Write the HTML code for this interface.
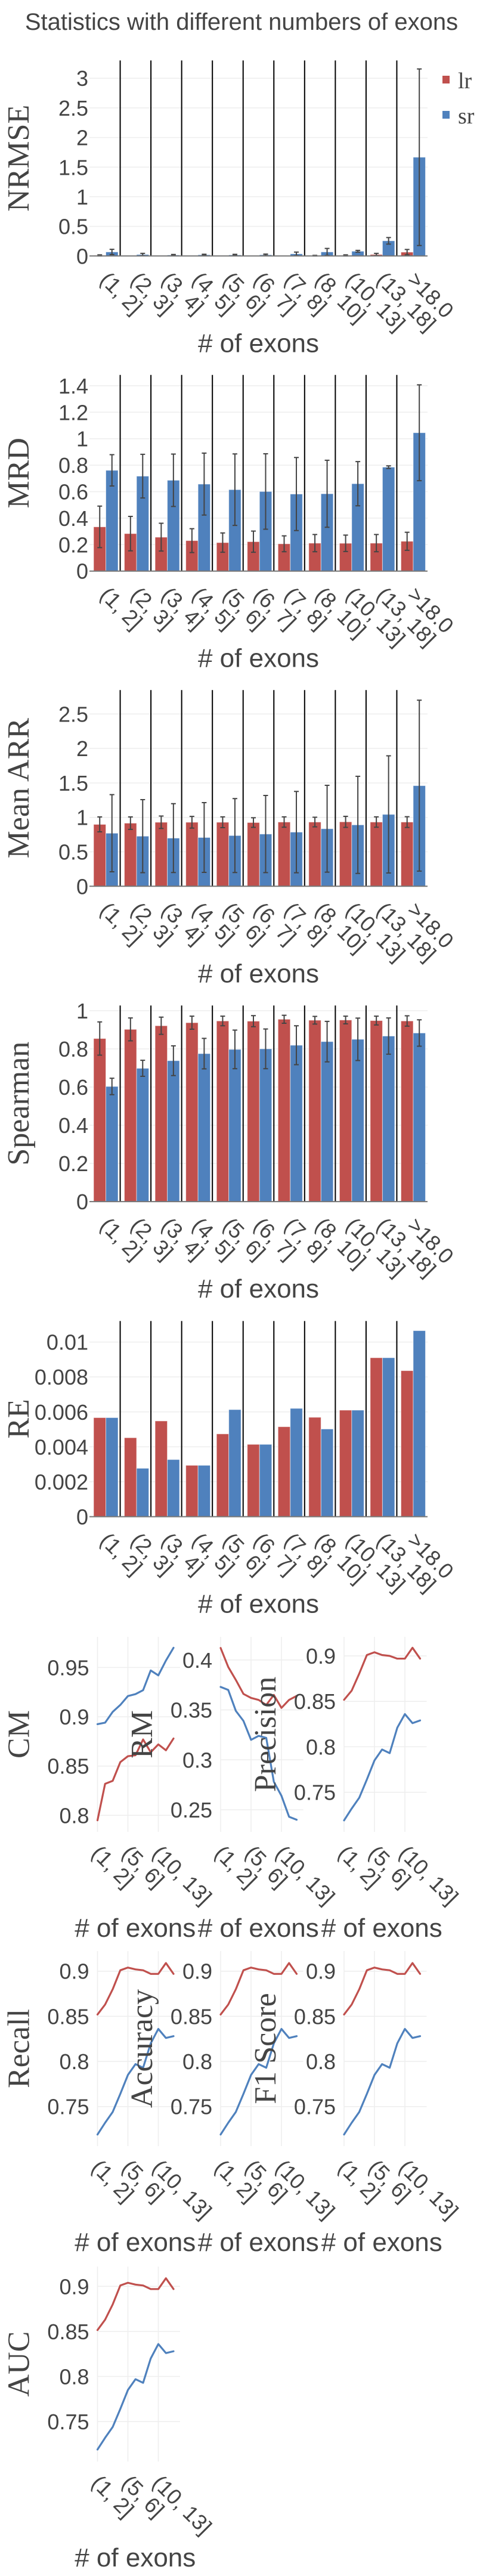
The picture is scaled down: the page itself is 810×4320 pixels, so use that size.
<!DOCTYPE html>
<html><head><meta charset="utf-8"><title>Statistics with different numbers of exons</title>
<style>
html,body{margin:0;padding:0;background:#fff;}
svg{display:block;}
text{font-family:"Liberation Sans",sans-serif;fill:#444;}
.serif{font-family:"Liberation Serif",serif;}
</style></head>
<body>
<svg id="fig" xmlns="http://www.w3.org/2000/svg" width="810" height="4320" viewBox="0 0 810 4320">
<text x="405" y="50" font-size="40" text-anchor="middle">Statistics with different numbers of exons</text>
<g>
<rect x="742" y="127" width="12" height="13" fill="#c0504d"></rect>
<text x="768" y="148" font-size="38" class="serif">lr</text>
<rect x="742" y="186" width="12" height="13" fill="#4f81bd"></rect>
<text x="768" y="207" font-size="38" class="serif">sr</text>
</g>
</svg>
<script>
// ---------- data ----------
const barCategories = ["(1, 2]","(2, 3]","(3, 4]","(4, 5]","(5, 6]","(6, 7]","(7, 8]","(8, 10]","(10, 13]","(13, 18]",">18.0"];

const nrmseLr = [0.01,0.002,0.002,0.002,0.002,0.002,0.002,0.005,0.01,0.025,0.065];
const nrmseLrErr = [0.01,0,0,0,0,0,0,0.005,0.01,0.02,0.045];
const nrmseSr = [0.068,0.024,0.016,0.02,0.018,0.02,0.036,0.068,0.08,0.256,1.667];
const nrmseSrErr = [0.045,0.02,0.01,0.01,0.01,0.012,0.03,0.06,0.015,0.055,1.49];
const nrmseTicks = [0,0.5,1,1.5,2,2.5,3];
const nrmseTickLabels = ["0","0.5","1","1.5","2","2.5","3"];

const mrdLr = [0.334,0.283,0.256,0.23,0.215,0.222,0.206,0.211,0.21,0.211,0.225];
const mrdLrErr = [0.157,0.13,0.105,0.09,0.073,0.08,0.06,0.065,0.062,0.065,0.068];
const mrdSr = [0.761,0.717,0.686,0.657,0.615,0.601,0.582,0.584,0.66,0.785,1.045];
const mrdSrErr = [0.118,0.165,0.198,0.234,0.27,0.285,0.276,0.253,0.167,0.01,0.362];
const mrdTicks = [0,0.2,0.4,0.6,0.8,1,1.2,1.4];
const mrdTickLabels = ["0","0.2","0.4","0.6","0.8","1","1.2","1.4"];

const arrLr = [0.898,0.916,0.929,0.929,0.929,0.925,0.932,0.932,0.935,0.932,0.932];
const arrLrErr = [0.108,0.09,0.09,0.085,0.078,0.07,0.075,0.07,0.08,0.075,0.078];
const arrSr = [0.77,0.727,0.699,0.708,0.736,0.758,0.786,0.835,0.891,1.043,1.46];
const arrSrErr = [0.56,0.53,0.5,0.506,0.537,0.56,0.59,0.63,0.705,0.85,1.24];
const arrTicks = [0,0.5,1,1.5,2,2.5];
const arrTickLabels = ["0","0.5","1","1.5","2","2.5"];

const spLr = [0.854,0.902,0.921,0.937,0.946,0.945,0.955,0.95,0.951,0.948,0.946];
const spLrErr = [0.087,0.06,0.045,0.034,0.025,0.029,0.021,0.02,0.02,0.023,0.027];
const spSr = [0.603,0.698,0.738,0.775,0.797,0.8,0.819,0.838,0.85,0.867,0.883];
const spSrErr = [0.043,0.042,0.078,0.08,0.101,0.104,0.102,0.106,0.111,0.095,0.069];
const spTicks = [0,0.2,0.4,0.6,0.8,1];
const spTickLabels = ["0","0.2","0.4","0.6","0.8","1"];

const reLr = [0.00567,0.00452,0.00548,0.00294,0.00474,0.00414,0.00515,0.00569,0.0061,0.0091,0.00836];
const reSr = [0.00567,0.00277,0.00327,0.00294,0.00613,0.00414,0.0062,0.00502,0.0061,0.0091,0.01065];
const reTicks = [0,0.002,0.004,0.006,0.008,0.01];
const reTickLabels = ["0","0.002","0.004","0.006","0.008","0.01"];

const lineLabels = ["(1, 2]","(5, 6]","(10, 13]"];
const lineLabelIdx = [0,4,8];

const cmLr = [0.795,0.832,0.835,0.854,0.860,0.861,0.877,0.864,0.872,0.866,0.878];
const cmSr = [0.8925,0.894,0.905,0.912,0.921,0.923,0.927,0.947,0.942,0.957,0.970];
const cmTicks = [0.8,0.85,0.9,0.95];
const cmTickLabels = ["0.8","0.85","0.9","0.95"];

const rmLr = [0.412,0.393,0.380,0.366,0.362,0.360,0.355,0.365,0.352,0.360,0.364];
const rmSr = [0.373,0.370,0.349,0.339,0.320,0.324,0.322,0.278,0.264,0.243,0.240];
const rmTicks = [0.25,0.3,0.35,0.4];
const rmTickLabels = ["0.25","0.3","0.35","0.4"];

const precLr = [0.8517,0.8618,0.8806,0.901,0.904,0.901,0.900,0.897,0.897,0.909,0.897];
const precSr = [0.719,0.732,0.744,0.764,0.785,0.797,0.793,0.821,0.836,0.826,0.829];
const recLr = [0.852,0.863,0.880,0.901,0.904,0.902,0.901,0.897,0.897,0.909,0.897];
const recSr = [0.719,0.732,0.744,0.764,0.785,0.797,0.793,0.820,0.836,0.826,0.828];
const accLr = [0.852,0.863,0.880,0.901,0.904,0.902,0.901,0.897,0.897,0.909,0.897];
const accSr = [0.719,0.732,0.744,0.764,0.785,0.797,0.793,0.820,0.836,0.826,0.828];
const f1Lr = [0.852,0.863,0.880,0.901,0.904,0.902,0.901,0.897,0.897,0.909,0.897];
const f1Sr = [0.719,0.732,0.744,0.764,0.785,0.797,0.793,0.820,0.836,0.826,0.828];
const aucLr = [0.8515,0.863,0.880,0.901,0.904,0.902,0.901,0.897,0.897,0.909,0.897];
const aucSr = [0.719,0.732,0.744,0.764,0.785,0.797,0.793,0.820,0.836,0.826,0.828];
const rateTicks = [0.75,0.8,0.85,0.9];
const rateTickLabels = ["0.75","0.8","0.85","0.9"];

// ---------- drawing ----------
const NS = "http://www.w3.org/2000/svg";
const svg = document.getElementById("fig");
const RED = "#c0504d", BLUE = "#4f81bd";
function mk(tag, attrs, parent, txt) {
  const e = document.createElementNS(NS, tag);
  for (const k in attrs) e.setAttribute(k, attrs[k]);
  if (txt !== undefined) e.textContent = txt;
  (parent || svg).appendChild(e);
  return e;
}
function linScale(v1, p1, v2, p2) { return v => p1 + (v - v1) * (p2 - p1) / (v2 - v1); }

function barPanel(key, title, top, base, refVal, refPx, ticks, tickLabels, lr, lrErr, sr, srErr) {
  const g = mk("g", {});
  
  
  const y = linScale(0, base, refVal, refPx);
  const L = 150, R = 717, bw = (R - L) / barCategories.length;
  ticks.forEach((t, i) => {
    const gl = mk("line", {x1: L, x2: R, y1: y(t), y2: y(t), stroke: "#eeeeee", "stroke-width": 1.5}, g);
    
    
    const tl = mk("text", {x: 148, y: y(t) + 13, "font-size": 36, "text-anchor": "end"}, g, tickLabels[i]);
    
    
  });
  for (let k = 1; k < barCategories.length; k++) {
    const sep = mk("line", {x1: L + bw * k, x2: L + bw * k, y1: top, y2: base, stroke: "#000", "stroke-width": 2}, g);
    
    
  }
  function series(vals, errs, off, color, name) {
    vals.forEach((v, i) => {
      const x = L + bw * i + off;
      const r = mk("rect", {x: x, y: y(v), width: 20.5, height: base - y(v), fill: color, stroke: "rgba(255,255,255,0.55)", "stroke-width": 1}, g);
      
      
      if (errs && errs[i] > 0) {
        const cx = x + 10.25, hi = y(v + errs[i]), lo = y(Math.max(0, v - errs[i]));
        const e = mk("path", {d: "M" + cx + " " + hi + "V" + lo + "M" + (cx - 4) + " " + hi + "H" + (cx + 4) + "M" + (cx - 4) + " " + lo + "H" + (cx + 4), stroke: "#444", "stroke-width": 2, fill: "none"}, g);
        
        
      }
    });
  }
  series(lr, lrErr, 7, RED, "lr");
  series(sr, srErr, 27.5, BLUE, "sr");
  const zl = mk("line", {x1: L, x2: R, y1: base, y2: base, stroke: "#777", "stroke-width": 2}, g);
  
  
  barCategories.forEach((c, i) => {
    const sx = L + bw * (i + 0.5) - 10, sy = base + 42;
    const t = mk("text", {x: sx, y: sy, "font-size": 36, transform: "rotate(45 " + sx + " " + sy + ")"}, g, c);
    
    
  });
  const xt = mk("text", {x: (L + R) / 2, y: base + 161, "font-size": 44, "text-anchor": "middle"}, g, "# of exons");
  
  
  const cy = (top + base) / 2;
  const yt = mk("text", {x: 48, y: cy, "font-size": 52, "text-anchor": "middle", "class": "serif", transform: "rotate(-90 48 " + cy + ")"}, g, title);
  
  
}

barPanel("nrmse", "NRMSE", 101.4, 429.3, 3, 131.2, nrmseTicks, nrmseTickLabels, nrmseLr, nrmseLrErr, nrmseSr, nrmseSrErr);
barPanel("mrd", "MRD", 628.8, 957.7, 1.4, 646.9, mrdTicks, mrdTickLabels, mrdLr, mrdLrErr, mrdSr, mrdSrErr);
barPanel("mean-arr", "Mean ARR", 1157.2, 1486.3, 2.5, 1197.4, arrTicks, arrTickLabels, arrLr, arrLrErr, arrSr, arrSrErr);
barPanel("spearman", "Spearman", 1686.2, 2015.1, 1, 1694.9, spTicks, spTickLabels, spLr, spLrErr, spSr, spSrErr);
barPanel("re", "RE", 2215.4, 2543.5, 0.01, 2250.6, reTicks, reTickLabels, reLr, null, reSr, null);

function linePanel(key, title, x0, top, bottom, v1, p1, v2, p2, ticks, tickLabels, lr, sr) {
  const g = mk("g", {});
  
  
  const y = linScale(v1, p1, v2, p2);
  const step = 12.75, W = 138.5;
  const x = i => x0 + step * i;
  ticks.forEach((t, i) => {
    const gl = mk("line", {x1: x0, x2: x0 + W, y1: y(t), y2: y(t), stroke: "#eeeeee", "stroke-width": 1.5}, g);
    
    
    const tl = mk("text", {x: x0 - 14, y: y(t) + 13, "font-size": 36, "text-anchor": "end"}, g, tickLabels[i]);
    
    
  });
  lineLabelIdx.forEach((idx, j) => {
    const vl = mk("line", {x1: x(idx), x2: x(idx), y1: top, y2: bottom, stroke: "#eeeeee", "stroke-width": 1.5}, g);
    
    
    const sx = x(idx) - 12, sy = bottom + 38;
    const t = mk("text", {x: sx, y: sy, "font-size": 36, transform: "rotate(45 " + sx + " " + sy + ")"}, g, lineLabels[j]);
    
    
  });
  function series(vals, color, name) {
    const d = vals.map((v, i) => (i ? "L" : "M") + x(i).toFixed(2) + " " + y(v).toFixed(2)).join("");
    const p = mk("path", {d: d, stroke: color, "stroke-width": 3.2, fill: "none", "stroke-linejoin": "round", "stroke-linecap": "round"}, g);
    
    
  }
  series(lr, RED, "lr");
  series(sr, BLUE, "sr");
  const xt = mk("text", {x: x0 + W / 2 - 6, y: bottom + 176, "font-size": 44, "text-anchor": "middle"}, g, "# of exons");
  
  
  const cy = (top + bottom) / 2, tx = x0 - 115;
  const yt = mk("text", {x: tx, y: cy, "font-size": 52, "text-anchor": "middle", "class": "serif", transform: "rotate(-90 " + tx + " " + cy + ")"}, g, title);
  
  
}

linePanel("cm", "CM", 163.5, 2745, 3072, 0.95, 2796.4, 0.8, 3044.4, cmTicks, cmTickLabels, cmLr, cmSr);
linePanel("rm", "RM", 370, 2745, 3072, 0.4, 2783.8, 0.25, 3035, rmTicks, rmTickLabels, rmLr, rmSr);
linePanel("precision", "Precision", 577, 2745, 3072, 0.9, 2777, 0.75, 3005.6, rateTicks, rateTickLabels, precLr, precSr);
linePanel("recall", "Recall", 163.5, 3272, 3599, 0.9, 3305.7, 0.75, 3532.7, rateTicks, rateTickLabels, recLr, recSr);
linePanel("accuracy", "Accuracy", 370, 3272, 3599, 0.9, 3305.7, 0.75, 3532.7, rateTicks, rateTickLabels, accLr, accSr);
linePanel("f1-score", "F1 Score", 577, 3272, 3599, 0.9, 3305.7, 0.75, 3532.7, rateTicks, rateTickLabels, f1Lr, f1Sr);
linePanel("auc", "AUC", 163.5, 3801, 4128, 0.9, 3834.3, 0.75, 4061, rateTicks, rateTickLabels, aucLr, aucSr);
</script>
</body></html>
